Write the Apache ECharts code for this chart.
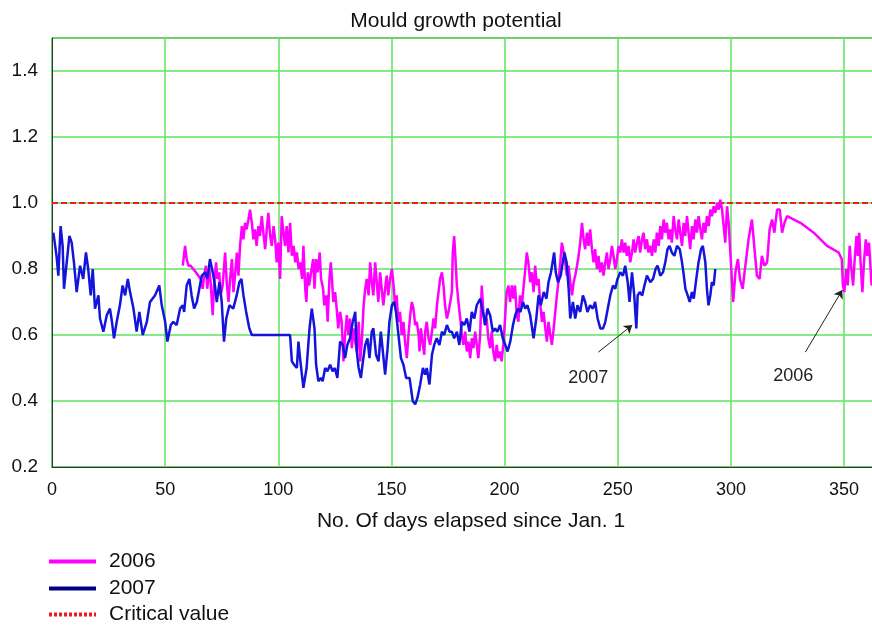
<!DOCTYPE html>
<html><head><meta charset="utf-8">
<script src="https://cdn.jsdelivr.net/npm/echarts@6/dist/echarts.min.js"></script>
<style>html,body{margin:0;padding:0;background:#fff;overflow:hidden;width:872px;height:625px}#c{width:884px;height:625px}</style>
</head><body><div id="c"></div>
<script>
const FONT = '"Liberation Sans", Arial, Helvetica, sans-serif';
const xTicks = [0, 50, 100, 150, 200, 250, 300, 350];
const yTicks = [0.2, 0.4, 0.6, 0.8, 1.0, 1.2, 1.4];

const days2007 = [0.6,2,2.8,3.8,4.7,5.3,6.5,7.7,8.7,9.7,10.9,12.4,13.8,15,16,17.1,18,19,20.5,21.2,22.7,24.2,25.6,26.5,27.4,28.6,30,31.2,32.3,33.5,34.5,36,37.4,38.6,40.1,41.9,43.3,45.5,47.4,48.5,50,51,52.5,53.6,55.1,56.6,57.8,58.4,59.5,60.7,61.7,62.8,64,65.1,66.2,67.7,68.7,69.8,70.5,71.3,72,72.8,74,75,76,77,78.4,80.1,81.6,82.8,83.7,84.6,85.8,87.2,88.3,89,105.2,106,107,108.2,108.9,109.6,111.1,112.5,113.8,114.8,116,116.7,117.7,118.8,119.6,120.7,121.7,122.9,124,125,126.1,127.3,128.5,129.5,130.5,131.7,132.9,134,134.7,135.5,136.5,137.4,138.4,139.4,140.3,141.3,142,143.2,144.3,145.3,146.2,147.2,148.3,149.1,150.2,151.2,152,153.1,154.2,155.3,156.5,158,159.4,160.5,161.5,162.7,163.9,164.9,165.6,166.8,167.9,168.9,170,171.2,172.3,173.3,174.5,175.7,176.7,177.7,178.9,180,181.1,182.2,183.3,184.5,185.5,186.6,187.7,189.2,190.4,191.4,192.4,193.6,194.8,195.8,196.8,198,199.2,200.3,201.3,202.5,203.7,204.7,205.8,207,208.1,209.1,210.1,211.3,212.8,214,215,216,217.3,218.5,219.4,220.5,221.9,222.6,223.6,224.8,225.7,226.4,227.4,228.3,229,230.2,231.2,232.2,233.4,234.6,235.6,236.6,237.8,239,240,241.1,242.3,243.5,244.5,245.6,246.7,247.9,248.9,249.9,251.1,252.3,253.3,254.4,255.2,256.3,257.3,258.2,258.8,259.7,260.8,261.8,262.9,264.4,265.6,266.7,267.6,268.8,270,271,272,272.9,273.9,275,276.2,277.4,278.4,279.2,279.9,280.9,281.8,282.8,283.6,284.7,285.7,286.8,287.6,288.7,289.4,290.1,290.9,291.6,292.4,293.1];
const vals2007 = [0.91,0.84,0.78,0.93,0.87,0.74,0.82,0.90,0.88,0.82,0.73,0.81,0.77,0.85,0.80,0.72,0.80,0.68,0.72,0.65,0.61,0.66,0.68,0.64,0.59,0.64,0.69,0.75,0.72,0.77,0.73,0.68,0.61,0.67,0.60,0.64,0.70,0.72,0.75,0.69,0.64,0.58,0.63,0.64,0.63,0.68,0.69,0.67,0.75,0.77,0.72,0.68,0.70,0.74,0.78,0.79,0.77,0.83,0.83,0.78,0.75,0.70,0.76,0.70,0.58,0.65,0.69,0.68,0.72,0.76,0.77,0.72,0.67,0.62,0.60,0.60,0.60,0.52,0.51,0.50,0.58,0.53,0.44,0.50,0.62,0.68,0.62,0.51,0.46,0.47,0.46,0.50,0.49,0.51,0.49,0.50,0.47,0.58,0.57,0.53,0.57,0.59,0.64,0.67,0.55,0.50,0.47,0.52,0.57,0.59,0.53,0.61,0.62,0.54,0.52,0.61,0.55,0.48,0.56,0.64,0.69,0.70,0.67,0.60,0.53,0.51,0.47,0.47,0.40,0.39,0.41,0.45,0.50,0.48,0.50,0.45,0.54,0.57,0.59,0.57,0.61,0.60,0.63,0.61,0.61,0.59,0.61,0.57,0.64,0.63,0.65,0.61,0.67,0.65,0.69,0.71,0.67,0.63,0.68,0.66,0.61,0.62,0.61,0.63,0.59,0.57,0.55,0.58,0.63,0.66,0.68,0.67,0.70,0.68,0.69,0.66,0.59,0.65,0.72,0.69,0.73,0.71,0.76,0.79,0.85,0.79,0.76,0.78,0.82,0.85,0.82,0.74,0.65,0.70,0.65,0.69,0.67,0.72,0.70,0.67,0.69,0.68,0.70,0.65,0.62,0.62,0.64,0.68,0.72,0.75,0.74,0.77,0.79,0.78,0.81,0.76,0.70,0.79,0.72,0.62,0.72,0.73,0.72,0.75,0.78,0.76,0.77,0.80,0.81,0.78,0.79,0.82,0.86,0.87,0.85,0.84,0.87,0.86,0.82,0.78,0.74,0.72,0.70,0.73,0.71,0.77,0.82,0.86,0.87,0.82,0.74,0.69,0.72,0.76,0.75,0.80];

const days2006 = [57.8,58.8,59.5,60.3,61.3,62.4,63.6,64.6,65.7,66.6,67.2,68,68.6,69.5,70.1,71,71.6,72.5,73.1,73.9,74.5,75.4,76.5,77.2,78,78.7,79.5,80.2,81,81.7,82.4,83.1,83.9,84.6,85.3,86,86.8,87.5,88.3,89,89.7,90.4,91.2,91.9,92.7,93.4,94.2,94.9,95.6,96.4,97.1,97.9,98.6,99.3,100,100.8,101.5,102.3,103,103.7,104.5,105.2,106,106.8,107.5,108.2,109,109.7,110.5,111.1,111.9,112.4,113,113.6,114.5,115.4,116,116.7,117.4,118.3,118.9,119.8,120.3,121.2,121.8,122.6,123.2,123.8,124.3,125.1,125.8,126.5,127.3,128,128.8,129.5,130.3,131,131.7,132.5,133.2,134,134.7,135.5,136.2,136.9,137.7,138.4,139.1,139.9,140.6,141.3,142,142.8,143.5,144.2,145,145.7,146.4,147.2,147.9,148.6,149.4,150.2,150.8,151.6,152.3,153,153.8,154.5,155.3,156,156.8,157.5,158.3,159,159.7,160.5,161.2,162,162.4,163,163.9,164.5,164.9,165.6,166.4,167.1,167.9,168.6,169.3,170.1,170.8,171.5,172.3,173,173.7,174.5,175.2,176,176.7,177.1,177.7,178.3,178.9,179.6,180.4,181.1,181.8,182.6,183.3,184,184.8,185.5,186.2,187,187.7,188.4,189.2,189.9,190.6,191.4,192.1,192.8,193.6,194.3,195,195.8,196.5,197.2,198,198.7,199.4,200.2,200.9,201.7,202.4,203.2,203.9,204.6,205.4,206.1,206.8,207.6,208.3,209,209.8,210.5,211.3,212,212.8,213.5,214.2,215,215.7,216.5,217.2,218,218.7,219.4,220.2,220.9,221.7,222.4,223.1,223.9,224.6,225.3,226.1,226.8,227.5,228.3,229,229.8,230.5,231.2,232,232.7,233.4,234.2,234.9,235.6,236.4,237.1,237.8,238.6,239.3,240,240.8,241.5,242.2,243,243.7,244.5,245.2,245.9,246.7,247.4,248.1,248.9,249.6,250.4,251.1,251.8,252.6,253.3,254,254.8,255.5,256.3,257,257.7,258.5,259.2,259.9,260.7,261.4,262.1,262.9,263.6,264.4,265.1,265.9,266.6,267.3,268.1,268.8,269.5,270.3,271,271.7,272.5,273.2,273.9,274.7,275.4,276.2,276.9,277.6,278.4,279.1,279.8,280.6,281.3,282,282.8,283.5,284.3,285,285.7,286.5,287.2,287.9,288.7,289.4,290.2,290.9,291.6,292.4,293.1,293.9,294.6,295.3,296.1,296.8,297.5,298.3,299,300,301,302,303.1,304,305.2,306.2,307.8,309.3,310.3,311.5,312.7,313.7,314.8,316,317.1,318.2,319.2,320.4,321.6,322.6,323.7,324.8,330.7,336.6,342.5,347.6,349,349.5,350.1,351,351.6,352.5,353.1,354,354.6,355.5,356.1,356.7,357.3,358.1,358.8,359.6,360.3,361,362.2,363.2];
const vals2006 = [0.81,0.87,0.83,0.81,0.81,0.80,0.79,0.78,0.77,0.74,0.78,0.81,0.74,0.80,0.76,0.66,0.75,0.82,0.77,0.79,0.72,0.75,0.85,0.76,0.70,0.77,0.83,0.73,0.79,0.85,0.78,0.87,0.93,0.89,0.94,0.92,0.95,0.98,0.94,0.89,0.92,0.87,0.93,0.90,0.96,0.91,0.86,0.92,0.97,0.90,0.87,0.93,0.89,0.82,0.88,0.77,0.96,0.91,0.87,0.93,0.85,0.94,0.84,0.87,0.82,0.85,0.80,0.82,0.77,0.87,0.74,0.70,0.79,0.75,0.79,0.83,0.74,0.83,0.79,0.85,0.77,0.74,0.69,0.72,0.64,0.77,0.82,0.76,0.70,0.73,0.68,0.62,0.67,0.64,0.52,0.60,0.66,0.60,0.65,0.56,0.62,0.58,0.55,0.64,0.52,0.58,0.69,0.74,0.77,0.72,0.82,0.76,0.72,0.82,0.76,0.70,0.79,0.74,0.69,0.74,0.78,0.72,0.77,0.80,0.76,0.69,0.72,0.64,0.67,0.60,0.64,0.58,0.53,0.60,0.66,0.70,0.68,0.63,0.64,0.60,0.55,0.62,0.57,0.54,0.61,0.64,0.59,0.57,0.61,0.65,0.62,0.69,0.73,0.77,0.79,0.75,0.69,0.65,0.67,0.70,0.73,0.85,0.90,0.83,0.75,0.70,0.65,0.60,0.57,0.61,0.55,0.58,0.53,0.59,0.56,0.61,0.57,0.53,0.60,0.75,0.67,0.63,0.65,0.59,0.56,0.61,0.55,0.52,0.57,0.53,0.55,0.52,0.57,0.65,0.73,0.75,0.70,0.75,0.71,0.75,0.66,0.64,0.72,0.69,0.74,0.79,0.85,0.82,0.76,0.79,0.73,0.81,0.75,0.77,0.70,0.64,0.67,0.62,0.58,0.64,0.60,0.57,0.62,0.67,0.72,0.77,0.82,0.88,0.85,0.82,0.78,0.81,0.76,0.72,0.76,0.78,0.81,0.84,0.88,0.94,0.89,0.86,0.91,0.87,0.92,0.86,0.82,0.86,0.80,0.84,0.79,0.82,0.78,0.82,0.85,0.80,0.83,0.87,0.84,0.80,0.83,0.87,0.85,0.89,0.85,0.88,0.84,0.87,0.82,0.85,0.89,0.85,0.88,0.90,0.85,0.89,0.91,0.86,0.89,0.85,0.87,0.84,0.89,0.85,0.91,0.87,0.93,0.89,0.95,0.91,0.94,0.89,0.92,0.88,0.96,0.92,0.89,0.95,0.91,0.87,0.94,0.90,0.96,0.91,0.86,0.93,0.89,0.95,0.91,0.96,0.92,0.89,0.94,0.91,0.96,0.93,0.98,0.96,0.99,0.97,1.00,0.98,1.01,0.98,0.93,0.88,0.99,0.94,0.82,0.70,0.79,0.83,0.77,0.74,0.80,0.89,0.95,0.87,0.78,0.77,0.84,0.81,0.82,0.92,0.95,0.91,0.98,0.98,0.91,0.94,0.96,0.94,0.91,0.87,0.85,0.83,0.75,0.73,0.80,0.75,0.87,0.81,0.75,0.82,0.90,0.84,0.91,0.82,0.73,0.82,0.89,0.84,0.88,0.75,0.78];

const critDays = [0, 365];
const critVals = [1.0, 1.0];
const legendNames = ['2006', '2007', 'Critical value'];

const zip = (a, b) => a.map((d, i) => [d, b[i]]);

const legendItemStyles = {
  '2006': {itemStyle: {opacity: 0}, lineStyle: {width: 4}},
  '2007': {itemStyle: {color: '#000080', opacity: 0}, lineStyle: {color: '#000080', width: 4}},
  'Critical value': {itemStyle: {opacity: 0}, lineStyle: {width: 4, type: [3, 2]}}
};
const legendTops = [551, 578, 604];
const legends = legendNames.map((n, i) => ({
  orient: 'horizontal', left: 47, top: legendTops[i], padding: 0, itemWidth: 47, itemHeight: 14,
  textStyle: {fontFamily: FONT, fontSize: 21, color: '#111', padding: [0, 0, 0, 8]},
  data: [Object.assign({name: n}, legendItemStyles[n])]
}));

const chart = echarts.init(document.getElementById('c'), null, {renderer: 'canvas'});
chart.setOption({
  animation: false,
  backgroundColor: '#fff',
  title: {
    text: 'Mould growth potential', left: 451, top: 6, textAlign: 'center',
    textStyle: {fontFamily: FONT, fontSize: 21, fontWeight: 'normal', color: '#111'}
  },
  grid: {left: 52, top: 38, width: 826, height: 429, show: true, borderColor: '#333', borderWidth: 1, backgroundColor: '#fff'},
  xAxis: {
    type: 'value', min: 0, max: 365, interval: 50,
    name: 'No. Of days elapsed since Jan. 1', nameLocation: 'middle', nameGap: 44,
    nameTextStyle: {fontFamily: FONT, fontSize: 21, color: '#111', padding: [0, 0, 0, 12]},
    axisLine: {show: true, lineStyle: {color: '#333', width: 1}},
    axisTick: {show: false},
    axisLabel: {fontFamily: FONT, fontSize: 18, color: '#111', margin: 14, showMaxLabel: false,
      formatter: v => xTicks.includes(v) ? String(v) : ''},
    splitLine: {show: true, lineStyle: {color: '#5fe35f', width: 1.5}}
  },
  yAxis: {
    type: 'value', min: 0.2, max: 1.5, interval: 0.2,
    axisLine: {show: true, lineStyle: {color: '#333', width: 1}},
    axisTick: {show: false},
    axisLabel: {fontFamily: FONT, fontSize: 19, color: '#111', margin: 14,
      formatter: v => yTicks.some(t => Math.abs(t - v) < 1e-6) ? v.toFixed(1) : ''},
    splitLine: {show: true, lineStyle: {color: '#5fe35f', width: 1.5}}
  },
  legend: legends,
  series: [
    {
      name: 'Critical value', type: 'line', data: zip(critDays, critVals), symbol: 'none',
      lineStyle: {color: '#ee1c1c', width: 2, type: [6, 3]}, itemStyle: {color: '#ee1c1c'}, z: 1
    },
    {
      name: '2007', type: 'line', data: zip(days2007, vals2007), symbol: 'none',
      lineStyle: {color: '#1414dc', width: 2.5}, itemStyle: {color: '#1414dc'}, z: 3,
      markLine: {
        silent: true, symbol: ['none', 'arrow'], symbolSize: 8, label: {show: false},
        lineStyle: {color: '#222', width: 1, type: 'solid'},
        data: [[{coord: [241.4, 0.548]}, {coord: [256.4, 0.63]}]]
      },
      markPoint: {
        silent: true, symbol: 'rect', symbolSize: 1, itemStyle: {color: 'rgba(0,0,0,0)'},
        label: {show: true, position: 'inside', formatter: '2007', fontFamily: FONT, fontSize: 18, color: '#222'},
        data: [{coord: [237, 0.47]}]
      }
    },
    {
      name: '2006', type: 'line', data: zip(days2006, vals2006), symbol: 'none',
      lineStyle: {color: '#ff00ff', width: 2.5}, itemStyle: {color: '#ff00ff'}, z: 2,
      markLine: {
        silent: true, symbol: ['none', 'arrow'], symbolSize: 8, label: {show: false},
        lineStyle: {color: '#222', width: 1, type: 'solid'},
        data: [[{coord: [332.9, 0.548]}, {coord: [349.2, 0.736]}]]
      },
      markPoint: {
        silent: true, symbol: 'rect', symbolSize: 1, itemStyle: {color: 'rgba(0,0,0,0)'},
        label: {show: true, position: 'inside', formatter: '2006', fontFamily: FONT, fontSize: 18, color: '#222'},
        data: [{coord: [327.6, 0.476]}]
      }
    }
  ]
});
</script>
</body></html>
